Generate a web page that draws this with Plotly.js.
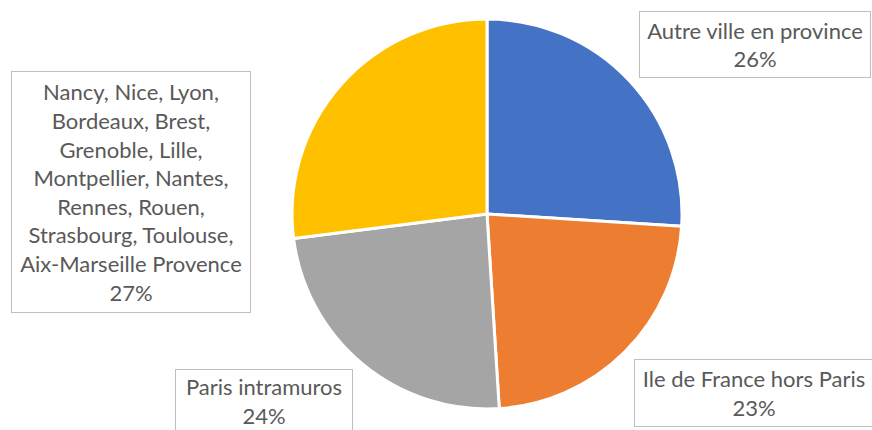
<!DOCTYPE html>
<html><head><meta charset="utf-8">
<script src="https://cdn.plot.ly/plotly-3.0.1.min.js"></script>
<style>html,body{margin:0;padding:0;background:#fff}#chart{width:872px;height:430px}</style>
</head><body><div id="chart"></div>
<script>
const categories = [
  "Autre ville en province",
  "Ile de France hors Paris",
  "Paris intramuros",
  "Nancy, Nice, Lyon,<br>Bordeaux, Brest,<br>Grenoble, Lille,<br>Montpellier, Nantes,<br>Rennes, Rouen,<br>Strasbourg, Toulouse,<br>Aix-Marseille Provence"
];
const values = [26, 23, 24, 27];
const colors = ["#4472C4", "#ED7D31", "#A5A5A5", "#FFC000"];

// label box placement (pixels): center x, top y, width, height
const boxes = [
  {cx: 755, top: 11, w: 232, h: 67},
  {cx: 754, top: 359, w: 240, h: 68},
  {cx: 264, top: 369, w: 178, h: 64},
  {cx: 131, top: 71, w: 240, h: 242}
];
const W = 872, H = 430;
const total = values.reduce((a, b) => a + b, 0);

const annotations = categories.map((c, i) => ({
  xref: "paper", yref: "paper",
  x: boxes[i].cx / W, y: 1 - boxes[i].top / H,
  xanchor: "center", yanchor: "top",
  width: boxes[i].w - 2, height: boxes[i].h - 2,
  text: c + "<br>" + Math.round(values[i] / total * 100) + "%",
  showarrow: false, align: "center", valign: "middle",
  bordercolor: "#BFBFBF", borderwidth: 1, borderpad: 0, bgcolor: "#FFFFFF",
  font: {family: "Lato, 'Open Sans', sans-serif", size: 22, color: "#595959"}
}));

const data = [{
  type: "pie",
  labels: categories,
  values: values,
  marker: {colors: colors, line: {color: "#FFFFFF", width: 3}},
  sort: false, direction: "clockwise", rotation: 0,
  textinfo: "none", hoverinfo: "none",
  domain: {x: [0.3349, 0.7821], y: [0.0488, 0.9558]}
}];

const layout = {
  width: W, height: H,
  margin: {l: 0, r: 0, t: 0, b: 0},
  showlegend: false,
  paper_bgcolor: "#FFFFFF",
  annotations: annotations
};
Plotly.newPlot("chart", data, layout, {displayModeBar: false, staticPlot: true});
</script></body></html>
